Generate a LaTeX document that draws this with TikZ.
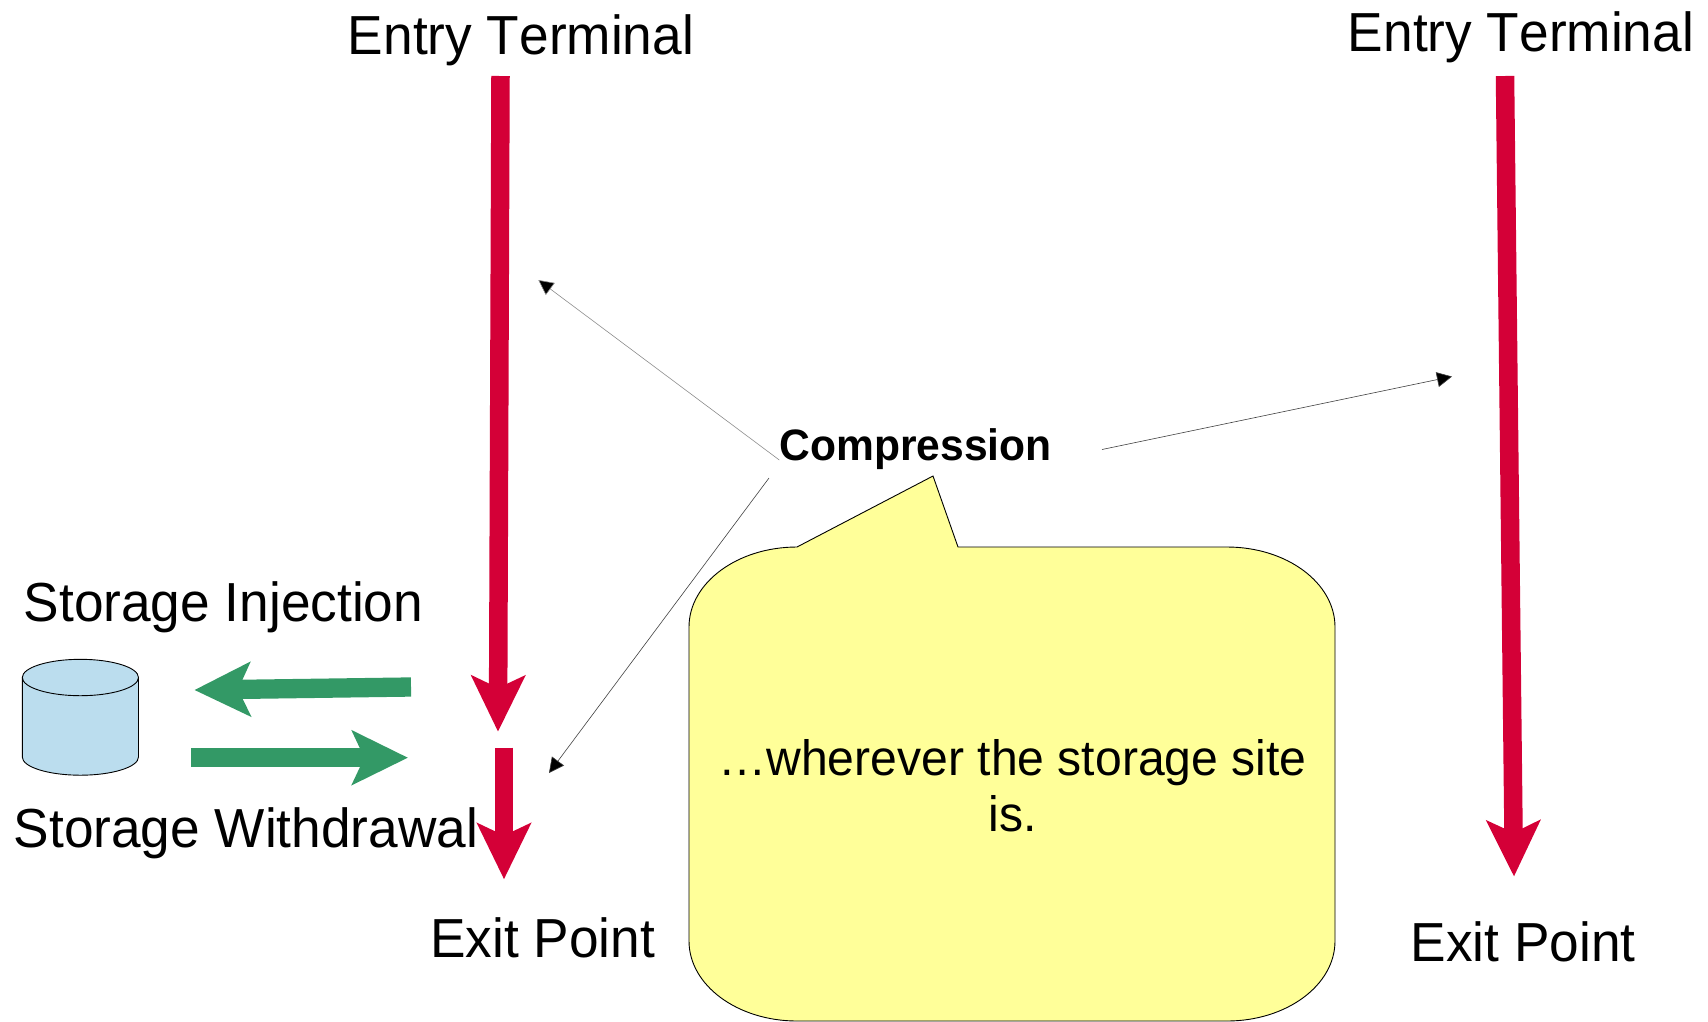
\documentclass[tikz,border=0pt]{standalone}
\usepackage{fontspec}
\setmainfont{Liberation Sans}[FakeStretch=0.968,Kerning=Off]
\usetikzlibrary{arrows.meta}
\definecolor{crimson}{HTML}{D40037}
\definecolor{seagreen}{HTML}{339966}
\definecolor{paleblue}{HTML}{BBDDEE}
\definecolor{paleyellow}{HTML}{FFFF99}
\tikzset{
  lbl/.style={font=\fontsize{55}{56}\selectfont,anchor=base,inner sep=0pt,align=center,text=black},
  boldlbl/.style={font=\fontsize{44}{50}\selectfont\bfseries,anchor=base,inner sep=0pt,text=black},
  redarrow/.style={draw=crimson,line width=18.5pt,-{Stealth[length=55.7pt,width=53pt,inset=12pt,fill=crimson]}},
  greenarrow/.style={draw=seagreen,line width=19.3pt,-{Stealth[length=55.6pt,width=53.5pt,inset=12pt,fill=seagreen]}},
  thinarrow/.style={draw=black!75,line width=0.6pt,-{Triangle[length=15pt,width=15pt,fill=black]}},
  shapeline/.style={draw=black,line width=0.9pt}
}
\begin{document}
\begin{tikzpicture}[x=1pt,y=-1pt]
\useasboundingbox (0,0) rectangle (1708,1021);
% coordinates
\coordinate (r1a) at (500.5,76);   \coordinate (r1b) at (498,731.7);
\coordinate (r2a) at (504,747.7);  \coordinate (r2b) at (504,879.3);
\coordinate (r3a) at (1505,76);    \coordinate (r3b) at (1514,876.5);
\coordinate (g1a) at (411,687);    \coordinate (g1b) at (194.4,690);
\coordinate (g2a) at (191,757.7);  \coordinate (g2b) at (408,757.7);
\coordinate (t1a) at (779.3,460);  \coordinate (t1b) at (538.3,280);
\coordinate (t2a) at (769,478);    \coordinate (t2b) at (549,773);
\coordinate (t3a) at (1102,449.5); \coordinate (t3b) at (1452,376.5);
% cylinder
\path[shapeline,fill=paleblue] (22.3,677.5) -- (22.3,757)
  .. controls (22.3,767) and (48.4,775.2) .. (80.4,775.2)
  .. controls (112.4,775.2) and (138.5,767) .. (138.5,757)
  -- (138.5,677.5)
  .. controls (138.5,667.5) and (112.4,659.3) .. (80.4,659.3)
  .. controls (48.4,659.3) and (22.3,667.5) .. (22.3,677.5) -- cycle;
\draw[shapeline] (22.3,677.5)
  .. controls (22.3,687.5) and (48.4,695.7) .. (80.4,695.7)
  .. controls (112.4,695.7) and (138.5,687.5) .. (138.5,677.5);
% callout
\path[shapeline,fill=paleyellow] (958,547) -- (1227,547)
  .. controls (1286.6,547) and (1335,582.8) .. (1335,627)
  -- (1335,941)
  .. controls (1335,985.2) and (1286.6,1021) .. (1227,1021)
  -- (797,1021)
  .. controls (737.4,1021) and (689,985.2) .. (689,941)
  -- (689,627)
  .. controls (689,582.8) and (737.4,547) .. (797,547)
  -- (933,476) -- cycle;
% labels
\node[lbl] (entry1) at (521,54.5) {Entry Terminal};
\node[lbl] (entry2) at (1521,51) {Entry Terminal};
\node[lbl] (inject) at (223.5,621) {Storage Injection};
\node[lbl] (withdraw) at (246,847.7) {Storage Withdrawal};
\node[lbl] (exit1) at (542.5,957.3) {Exit Point};
\node[lbl] (exit2) at (1523,961) {Exit Point};
\node[boldlbl] (comp) at (915.5,460.5) {Compression};
\node[lbl,font=\fontsize{49.7}{56}\selectfont] (where) at (1012.5,831) {…wherever the storage site\\is.};
% arrows
\draw[redarrow] (r1a) -- (r1b);
\draw[redarrow] (r2a) -- (r2b);
\draw[redarrow] (r3a) -- (r3b);
\draw[greenarrow] (g1a) -- (g1b);
\draw[greenarrow] (g2a) -- (g2b);
\draw[thinarrow,draw=black!45] (t1a) -- (t1b);
\draw[thinarrow] (t2a) -- (t2b);
\draw[thinarrow] (t3a) -- (t3b);
\end{tikzpicture}
\end{document}
